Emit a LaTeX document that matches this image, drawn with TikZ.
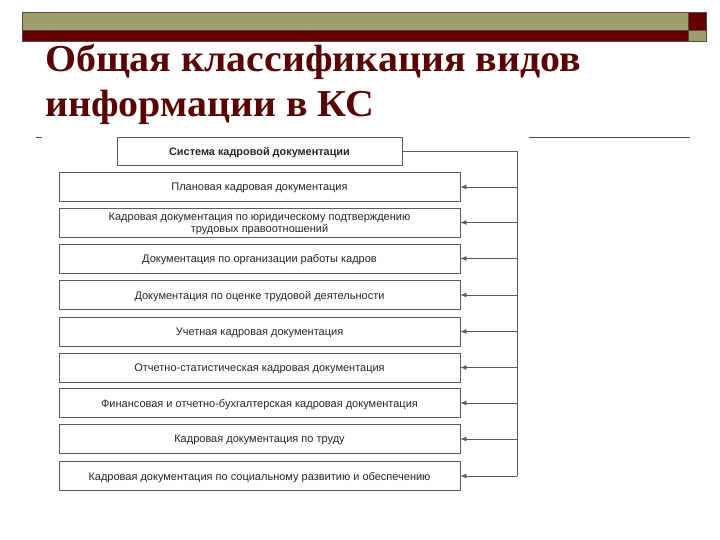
\documentclass[tikz,border=0pt]{standalone}
\usepackage{fontspec}
\setmainfont{Liberation Sans}
\newfontfamily\titlefont[FakeStretch=1.05]{Liberation Serif}
\usetikzlibrary{arrows.meta}

\definecolor{capolive}{RGB}{158,158,108}
\definecolor{capred}{RGB}{102,0,0}
\definecolor{headred}{RGB}{88,4,4}
\definecolor{boxgray}{RGB}{90,90,90}

\tikzstyle{bar}=[draw=black!70,line width=0.6pt]
\tikzstyle{doc}=[draw=boxgray,line width=0.8pt,rectangle,inner sep=0pt,
  minimum width=401pt,minimum height=29pt,align=center,text=black!85,
  text depth=0pt,font=\fontsize{11}{12.5}\selectfont]
\tikzstyle{link}=[draw=boxgray,line width=0.8pt]
\tikzstyle{head}=[font=\titlefont\bfseries\fontsize{38}{44}\selectfont,
  text=headred,inner sep=0pt,anchor=base west]

\begin{document}
\begin{tikzpicture}[x=1pt,y=-1pt]

   \useasboundingbox (0,0) rectangle (720,540);

   % Capsules bars

   \fill[bar,fill=capolive] (22,12) rectangle (688,30);
   \fill[bar,fill=capred] (22,30) rectangle (688,41);
   \fill[bar,fill=capred] (688,12) rectangle (706,30);
   \fill[bar,fill=capolive] (688,30) rectangle (706,41);

   % Title

   \node[head] (titleA) at (45,72) {Общая классификация видов};
   \node[head] (titleB) at (45,117) {информации в КС};

   \draw[black!70,line width=1pt] (36,137.5) -- (42,137.5);
   \draw[black!70,line width=1pt] (529,137.5) -- (690,137.5);

   % Kadrovaya dokumentaciya

   \node[doc,minimum width=285pt,minimum height=28pt,
     font=\bfseries\fontsize{10.9}{12.5}\selectfont] (sys) at (259.5,151) {Система кадровой документации};

   \node[doc] (d1) at (259.5,187) {Плановая кадровая документация};
   \node[doc] (d2) at (259.5,222.5) {Кадровая документация по юридическому подтверждению\\трудовых правоотношений};
   \node[doc] (d3) at (259.5,258.5) {Документация по организации работы кадров};
   \node[doc] (d4) at (259.5,295) {Документация по оценке трудовой деятельности};
   \node[doc] (d5) at (259.5,331.5) {Учетная кадровая документация};
   \node[doc] (d6) at (259.5,367.5) {Отчетно-статистическая кадровая документация};
   \node[doc] (d7) at (259.5,403) {Финансовая и отчетно-бухгалтерская кадровая документация};
   \node[doc] (d8) at (259.5,439) {Кадровая документация по труду};
   \node[doc] (d9) at (259.5,476) {Кадровая документация по социальному развитию и обеспечению};

   % Links

   \coordinate (rail) at (517,0);
   \draw[link] (sys.east) -- (sys.east -| rail) -- (d9.east -| rail);
   \foreach \k in {1,...,9}
     \draw[link,-{Latex[length=6pt,width=5pt]}] (d\k.east -| rail) -- (d\k.east);

\end{tikzpicture}
\end{document}
